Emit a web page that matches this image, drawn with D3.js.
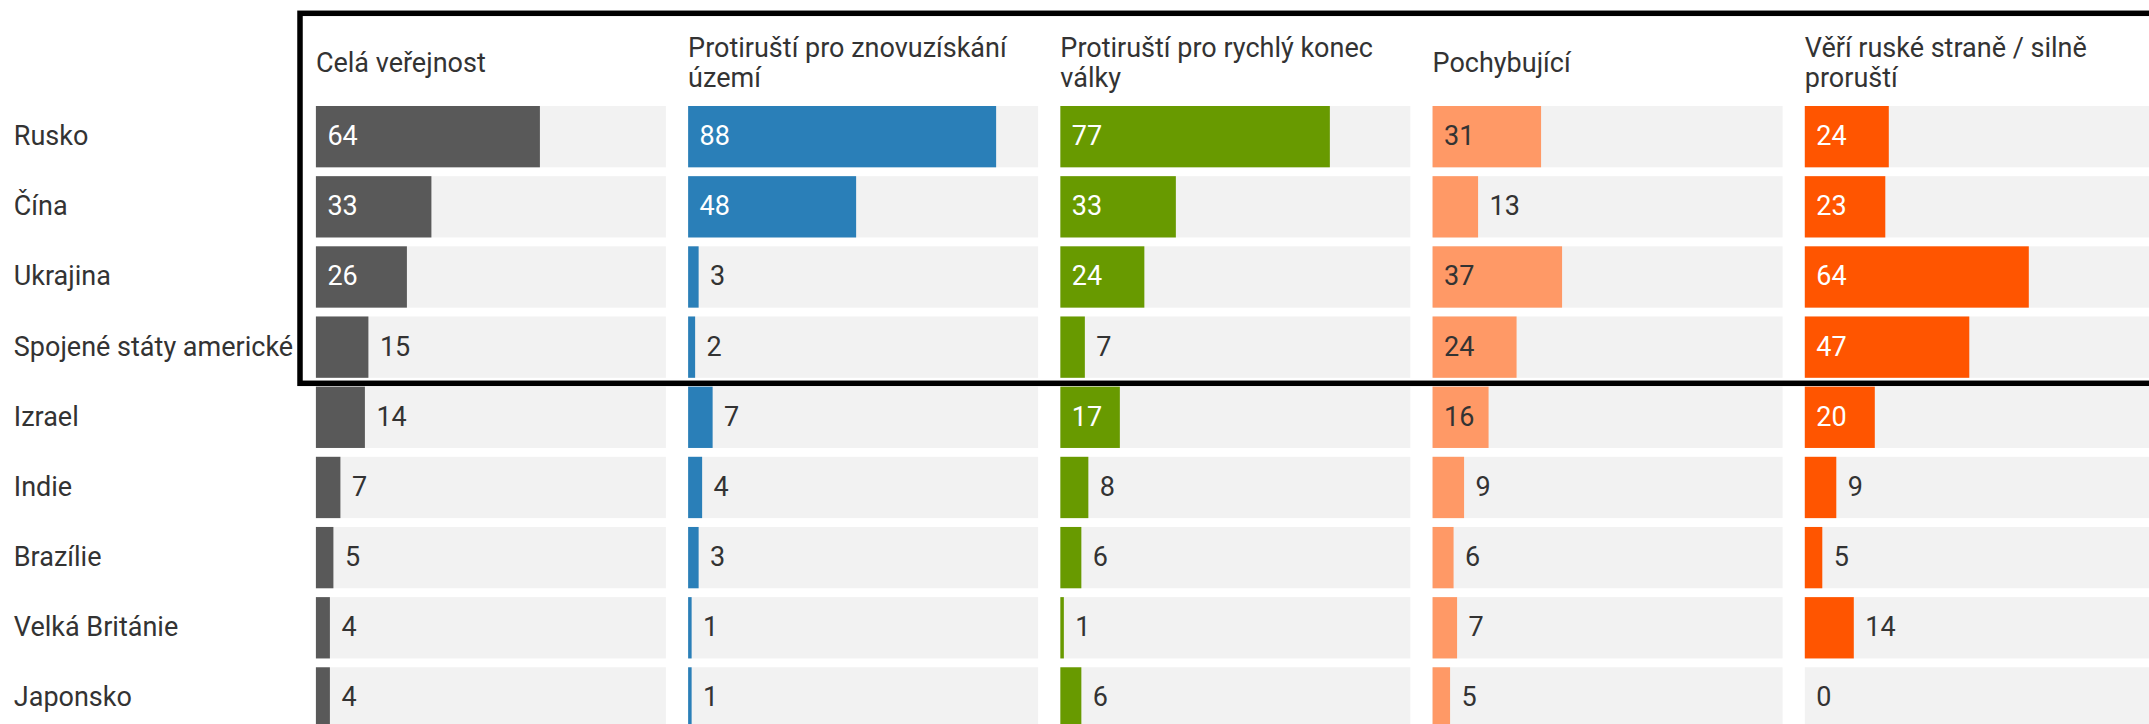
<!DOCTYPE html>
<html>
<head>
<meta charset="utf-8">
<script src="https://cdn.jsdelivr.net/npm/d3@7"></script>
<style>
  html, body { margin: 0; padding: 0; background: #ffffff; overflow: hidden; }
  svg { display: block; font-family: Roboto, "Noto Sans", sans-serif; }
</style>
</head>
<body>
<svg id="chart" width="2149" height="724"></svg>
<script>
// ---- data ----
const countries = ["Rusko", "Čína", "Ukrajina", "Spojené státy americké", "Izrael", "Indie", "Brazílie", "Velká Británie", "Japonsko"];
const groups = [
  "Celá veřejnost",
  "Protiruští pro znovuzískání území",
  "Protiruští pro rychlý konec války",
  "Pochybující",
  "Věří ruské straně / silně proruští"
];
const celaVerejnost   = [64, 33, 26, 15, 14, 7, 5, 4, 4];
const znovuziskani    = [88, 48, 3, 2, 7, 4, 3, 1, 1];
const rychlyKonec     = [77, 33, 24, 7, 17, 8, 6, 1, 6];
const pochybujici     = [31, 13, 37, 24, 16, 9, 6, 7, 5];
const ruskeStrane     = [24, 23, 64, 47, 20, 9, 5, 14, 0];
const seriesValues = [celaVerejnost, znovuziskani, rychlyKonec, pochybujici, ruskeStrane];
const groupColors = ["#595959", "#2a7fb8", "#689a00", "#ff9966", "#ff5500"];
const labelInsideColors = ["#ffffff", "#ffffff", "#ffffff", "#333333", "#ffffff"];

// ---- layout ----
const svg = d3.select("#chart");
const fontSize = 27;

const col = d3.scaleBand()
  .domain(groups)
  .range([315.9, 2154.8])
  .paddingInner(0.0597)
  .paddingOuter(0);

const y = d3.scaleBand()
  .domain(countries)
  .range([106, 728.6])
  .paddingInner(0.126)
  .paddingOuter(0);

const x = d3.scaleLinear().domain([0, 100]).range([0, col.bandwidth()]);

// row labels
svg.append("g").selectAll("text")
  .data(countries)
  .join("text")
  .attr("x", 13.8)
  .attr("y", d => y(d) + y.bandwidth() / 2)
  .attr("dy", "0.31em")
  .attr("font-size", fontSize)
  .attr("fill", "#333333")
  .text(d => d);

// columns
groups.forEach((g, gi) => {
  const gx = col(g);
  const gEl = svg.append("g").attr("transform", `translate(${gx},0)`);
  const rows = countries.map((c, i) => ({ country: c, value: seriesValues[gi][i] }));

  // track
  gEl.append("g").selectAll("rect")
    .data(rows)
    .join("rect")
    .attr("x", x(0))
    .attr("y", d => y(d.country))
    .attr("width", x(100) - x(0))
    .attr("height", y.bandwidth())
    .attr("fill", "#f2f2f2");

  // bars
  gEl.append("g").selectAll("rect")
    .data(rows)
    .join("rect")
    .attr("x", x(0))
    .attr("y", d => y(d.country))
    .attr("width", d => x(d.value) - x(0))
    .attr("height", y.bandwidth())
    .attr("fill", groupColors[gi]);

  // value labels
  gEl.append("g").selectAll("text")
    .data(rows)
    .join("text")
    .attr("x", d => d.value >= 16 ? x(0) + 11.5 : x(d.value) + 11.5)
    .attr("y", d => y(d.country) + y.bandwidth() / 2)
    .attr("dy", "0.31em")
    .attr("font-size", fontSize)
    .attr("fill", d => d.value >= 16 ? labelInsideColors[gi] : "#333333")
    .text(d => d.value);

  // header with word wrap
  const header = gEl.append("text")
    .attr("font-size", fontSize)
    .attr("fill", "#333333");
  const words = g.split(" ");
  const maxW = col.bandwidth();
  let lines = [];
  let line = [];
  const probe = header.append("tspan");
  words.forEach(w => {
    const test = line.concat([w]).join(" ");
    probe.text(test);
    if (probe.node().getComputedTextLength() > maxW && line.length) {
      lines.push(line.join(" "));
      line = [w];
    } else {
      line.push(w);
    }
  });
  if (line.length) lines.push(line.join(" "));
  probe.remove();
  const lh = 30.6;
  const first = 72 - (lines.length - 1) * lh / 2;
  header.selectAll("tspan")
    .data(lines)
    .join("tspan")
    .attr("x", x(0))
    .attr("y", (d, i) => first + i * lh)
    .text(d => d);
});

// highlight frame
svg.append("rect")
  .attr("x", 300)
  .attr("y", 13.3)
  .attr("width", 1900)
  .attr("height", 370)
  .attr("fill", "none")
  .attr("stroke", "#000000")
  .attr("stroke-width", 5.5);
</script>
</body>
</html>
